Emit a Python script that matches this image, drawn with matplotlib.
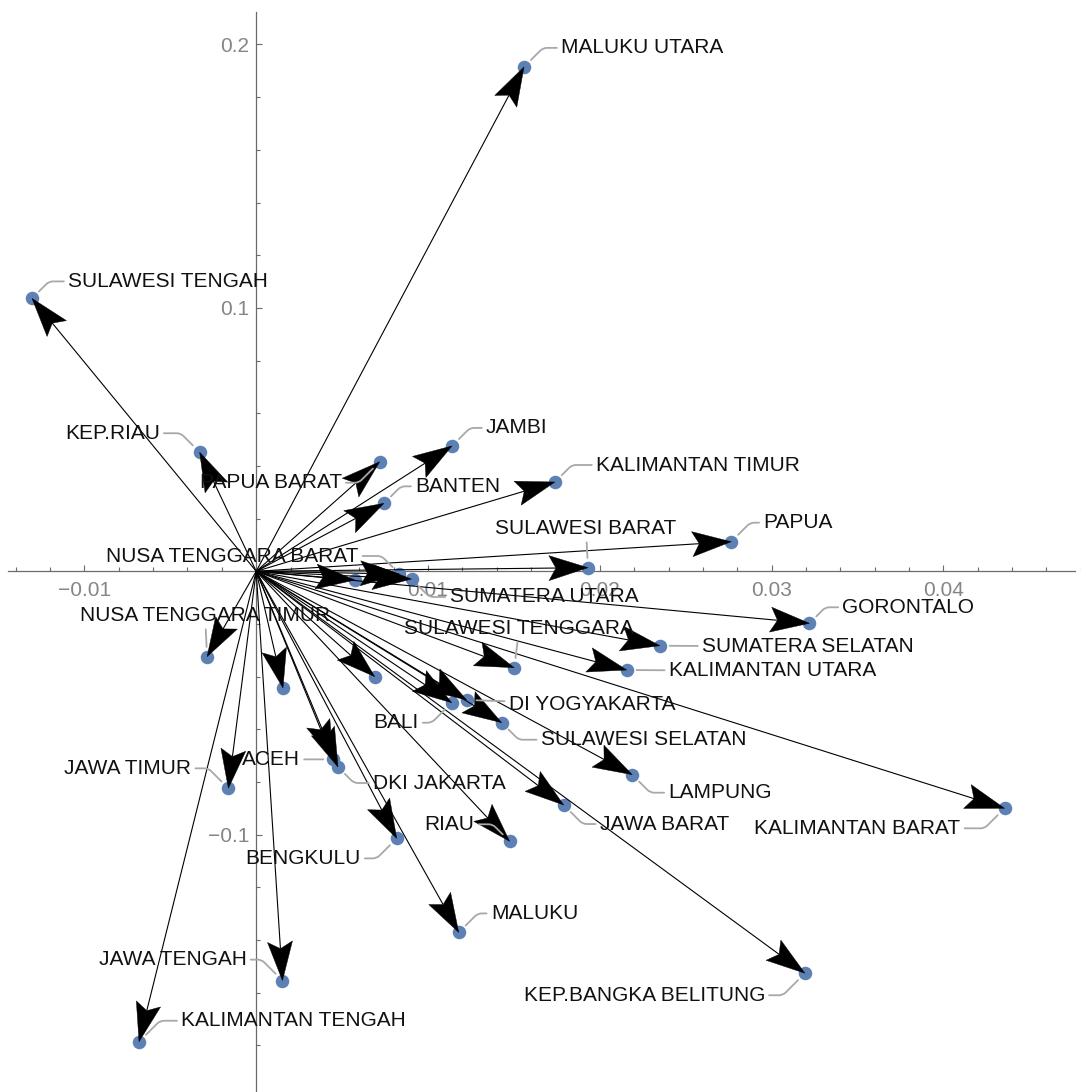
import matplotlib
matplotlib.use("Agg")
import matplotlib.pyplot as plt
import numpy as np
from matplotlib.patches import Polygon
from matplotlib.ticker import FixedLocator, MultipleLocator

plt.rcParams["font.family"] = ["Liberation Sans", "DejaVu Sans"]

# Province names ("" = point drawn without a label)
provinces = [
    "MALUKU UTARA", "SULAWESI TENGAH", "KEP.RIAU", "PAPUA BARAT", "JAMBI", "BANTEN",
    "KALIMANTAN TIMUR", "PAPUA", "SULAWESI BARAT", "NUSA TENGGARA BARAT", "SUMATERA UTARA",
    "NUSA TENGGARA TIMUR", "SULAWESI TENGGARA", "GORONTALO", "SUMATERA SELATAN",
    "KALIMANTAN UTARA", "DI YOGYAKARTA", "BALI", "SULAWESI SELATAN", "LAMPUNG",
    "JAWA BARAT", "KALIMANTAN BARAT", "KEP.BANGKA BELITUNG", "MALUKU", "RIAU",
    "BENGKULU", "DKI JAKARTA", "ACEH", "JAWA TIMUR", "JAWA TENGAH", "KALIMANTAN TENGAH",
    "", "", "",
]

# Component scores
pc1 = [
    0.01559, -0.01305, -0.00329, 0.00719, 0.01140, 0.00744,
    0.01739, 0.02765, 0.01931, 0.00834, 0.00904,
    -0.00286, 0.01502, 0.03220, 0.02350,
    0.02157, 0.01225, 0.01138, 0.01429, 0.02189,
    0.01790, 0.04356, 0.03194, 0.01179, 0.01475,
    0.00818, 0.00476, 0.00447, -0.00162, 0.00153, -0.00682,
    0.00156, 0.00690, 0.00575,
]
pc2 = [
    0.1915, 0.1036, 0.0452, 0.0416, 0.0476, 0.0258,
    0.0339, 0.01124, 0.00137, -0.00103, -0.00292,
    -0.0324, -0.0366, -0.01974, -0.02825,
    -0.03747, -0.04886, -0.04989, -0.05748, -0.07722,
    -0.08873, -0.08998, -0.1526, -0.1371, -0.1025,
    -0.1014, -0.0743, -0.0714, -0.0824, -0.1554, -0.1786,
    -0.0443, -0.0400, -0.0033,
]

x_ticks = [-0.01, 0.01, 0.02, 0.03, 0.04]
x_tick_labels = ["\u22120.01", "0.01", "0.02", "0.03", "0.04"]
y_ticks = [-0.1, 0.1, 0.2]
y_tick_labels = ["\u22120.1", "0.1", "0.2"]

# Label placement: offset of the text (pixels, y up) from its point,
# horizontal alignment, and bend of the leader line (None = straight)
label_layout = {
    "MALUKU UTARA": (37, 21, "left", 45),
    "SULAWESI TENGAH": (36, 19, "left", 45),
    "KEP.RIAU": (-40, 21, "right", 135),
    "PAPUA BARAT": (-38, -19, "right", 45),
    "JAMBI": (34, 20, "left", 45),
    "BANTEN": (31, 19, "left", 45),
    "KALIMANTAN TIMUR": (41, 19, "left", 45),
    "PAPUA": (32, 21, "left", 45),
    "SULAWESI BARAT": (-2, 41, "center", None),
    "NUSA TENGGARA BARAT": (-41, 20, "right", 135),
    "SUMATERA UTARA": (38, -16, "left", 135),
    "NUSA TENGGARA TIMUR": (-2, 43, "center", None),
    "SULAWESI TENGGARA": (5, 41, "center", None),
    "GORONTALO": (33, 18, "left", 45),
    "SUMATERA SELATAN": (42, 1, "left", None),
    "KALIMANTAN UTARA": (42, 1, "left", None),
    "DI YOGYAKARTA": (42, -2, "left", None),
    "BALI": (-33, -18, "right", 45),
    "SULAWESI SELATAN": (39, -15, "left", 135),
    "LAMPUNG": (36, -16, "left", 135),
    "JAWA BARAT": (36, -17, "left", 135),
    "KALIMANTAN BARAT": (-44, -18, "right", 45),
    "KEP.BANGKA BELITUNG": (-40, -20, "right", 45),
    "MALUKU": (32, 21, "left", 45),
    "RIAU": (-35, 19, "right", 135),
    "BENGKULU": (-36, -18, "right", 45),
    "DKI JAKARTA": (35, -14, "left", 135),
    "ACEH": (-33, 2, "right", None),
    "JAWA TIMUR": (-37, 22, "right", 135),
    "JAWA TENGAH": (-36, 23, "right", 135),
    "KALIMANTAN TENGAH": (42, 23, "left", 45),
}

W, H, DPI = 1081, 1092, 100
fig = plt.figure(figsize=(W / DPI, H / DPI), dpi=DPI)
ax = fig.add_axes([0, 0, 1, 1])
ax.set_xlim(-0.014913, 0.048010)
ax.set_ylim(-0.19768, 0.21689)

axis_gray = "#6b6b6b"
for side in ("top", "right"):
    ax.spines[side].set_visible(False)
ax.spines["left"].set_position(("data", 0))
ax.spines["bottom"].set_position(("data", 0))
ax.spines["bottom"].set_bounds(-0.01444, 0.04767)
ax.spines["left"].set_bounds(-0.19768, 0.2123)
for side in ("left", "bottom"):
    ax.spines[side].set_color(axis_gray)
    ax.spines[side].set_linewidth(0.9)
ax.patch.set_visible(False)

ax.xaxis.set_major_locator(FixedLocator(x_ticks))
ax.set_xticklabels(x_tick_labels)
ax.xaxis.set_minor_locator(MultipleLocator(0.002))
ax.yaxis.set_major_locator(FixedLocator(y_ticks))
ax.set_yticklabels(y_tick_labels)
ax.yaxis.set_minor_locator(MultipleLocator(0.02))
ax.tick_params(which="both", direction="in", color=axis_gray, width=0.8)
ax.tick_params(which="major", length=4.5, labelsize=15, labelcolor="#858585")
ax.tick_params(which="minor", length=2.6)
ax.tick_params(axis="x", which="major", pad=7)
ax.tick_params(axis="y", which="major", pad=5)

# points
ax.scatter(pc1, pc2, s=95, color="#5E81B5", zorder=3, linewidths=0)

# arrows from the origin, heads built in display space
L_HEAD, W_HEAD, N_HEAD = 39.0, 12.5, 32.0
o_disp = ax.transData.transform((0.0, 0.0))
for x, y in zip(pc1, pc2):
    p = ax.transData.transform((x, y))
    d = p - o_disp
    u = d / np.hypot(*d)
    n = np.array([-u[1], u[0]])
    back = p - N_HEAD * u
    xb, yb = ax.transData.inverted().transform(back)
    ax.plot([0, xb], [0, yb], color="black", lw=0.8, zorder=4, solid_capstyle="butt")
    head = np.array([p,
                     p - L_HEAD * u + W_HEAD * n,
                     back,
                     p - L_HEAD * u - W_HEAD * n])
    ax.add_patch(Polygon(head, closed=True, transform=None,
                         facecolor="black", edgecolor="black", lw=0.3, zorder=5))

# labels with gray leader lines
CAP_HALF = 7.5
for name, x, y in zip(provinces, pc1, pc2):
    if not name:
        continue
    dx, dy, ha, bend = label_layout[name]
    if bend is None:
        conn = "arc3,rad=0"
    else:
        conn = f"angle,angleA=0,angleB={bend},rad=4"
    ax.annotate(name, xy=(x, y), xytext=(dx, dy - CAP_HALF),
                textcoords="offset pixels", ha=ha, va="baseline",
                fontsize=15, color="#111111", zorder=6,
                arrowprops=dict(arrowstyle="-", color="#a8a8a8", lw=1.3,
                                connectionstyle=conn, shrinkA=1, shrinkB=7))

fig.savefig("out.png", dpi=DPI)
